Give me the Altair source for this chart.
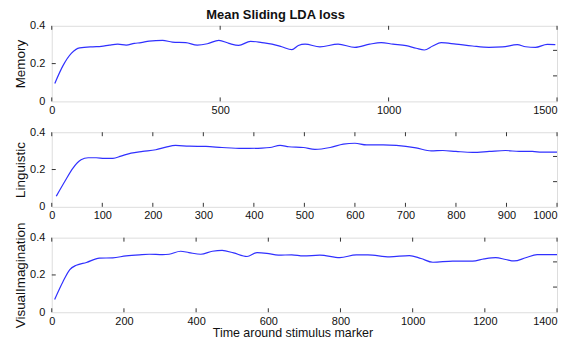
import altair as alt
import pandas as pd

# ---- data ----
mem_x = [9, 33, 58, 83, 122, 147, 171, 196, 221, 245, 265, 289, 329, 358, 398, 432, 462, 496, 526, 555,
         590, 624, 654, 683, 713, 732, 752, 796, 850, 900, 944, 978, 1013, 1052, 1082, 1106, 1131, 1156,
         1200, 1249, 1298, 1338, 1382, 1407, 1436, 1471, 1495]
mem_y = [0.095, 0.188, 0.254, 0.283, 0.289, 0.291, 0.298, 0.303, 0.298, 0.307, 0.311, 0.319, 0.323, 0.314,
         0.311, 0.298, 0.305, 0.323, 0.307, 0.296, 0.318, 0.311, 0.303, 0.289, 0.274, 0.296, 0.303, 0.289,
         0.303, 0.286, 0.303, 0.311, 0.303, 0.295, 0.281, 0.272, 0.293, 0.311, 0.303, 0.293, 0.286, 0.288,
         0.300, 0.289, 0.286, 0.302, 0.300]

lin_x = [9, 26, 42, 58, 72, 88, 104, 121, 137, 157, 180, 206, 226, 245, 272, 305, 337, 377, 416, 432,
         452, 469, 498, 521, 551, 577, 600, 623, 656, 682, 721, 751, 774, 800, 833, 866, 898, 925, 951,
         970, 1000]
lin_y = [0.057, 0.137, 0.208, 0.252, 0.263, 0.263, 0.260, 0.260, 0.272, 0.288, 0.297, 0.306, 0.320, 0.329,
         0.325, 0.324, 0.318, 0.313, 0.315, 0.318, 0.329, 0.322, 0.318, 0.308, 0.318, 0.336, 0.341, 0.332,
         0.332, 0.329, 0.316, 0.300, 0.302, 0.297, 0.292, 0.297, 0.302, 0.297, 0.297, 0.293, 0.293]

vis_x = [8, 31, 50, 68, 96, 132, 169, 206, 243, 270, 307, 325, 357, 380, 413, 445, 472, 504, 541, 569,
         596, 628, 665, 697, 743, 798, 844, 876, 936, 991, 1023, 1056, 1111, 1166, 1198, 1230, 1258, 1281,
         1313, 1345, 1400]
vis_y = [0.069, 0.164, 0.229, 0.252, 0.267, 0.290, 0.292, 0.302, 0.308, 0.311, 0.309, 0.311, 0.327, 0.320,
         0.311, 0.327, 0.332, 0.318, 0.299, 0.320, 0.316, 0.306, 0.308, 0.302, 0.306, 0.293, 0.308, 0.308,
         0.297, 0.304, 0.288, 0.268, 0.274, 0.274, 0.286, 0.293, 0.283, 0.275, 0.292, 0.309, 0.309]

mem_ticks = [0, 500, 1000, 1500]
lin_ticks = [0, 100, 200, 300, 400, 500, 600, 700, 800, 900, 1000]
vis_ticks = [0, 200, 400, 600, 800, 1000, 1200, 1400]
y_ticks = [0, 0.2, 0.4]
y_inner_left = [0.2]
y_inner_right = [0.135, 0.27]

TITLE = "Mean Sliding LDA loss"
XTITLE = "Time around stimulus marker"

FONT = "Liberation Sans"
LINE_COLOR = "#3030ff"
W = 508
TICK = 4


def panel(xs, ys, xticks, xmax, ylabel, h, xtitle=None):
    line_df = pd.DataFrame({"x": xs, "y": ys})
    xt_df = pd.DataFrame({"x": xticks})
    yl_df = pd.DataFrame({"y": y_inner_left})
    yr_df = pd.DataFrame({"y": y_inner_right})

    xaxis_kw = dict(values=xticks, ticks=False, domain=False, grid=False, labelPadding=3,
                    labelFontSize=11, labelFont=FONT, labelColor="#111", format="d",
                    labelFlush=False,
                    labelAlign={"condition": {"test": f"datum.value >= {xmax}", "value": "right"},
                                "value": "center"})
    if xtitle:
        xaxis_kw.update(title=xtitle, titleFontSize=12.5, titleFont=FONT, titleFontWeight="normal",
                        titleColor="#111", titlePadding=0, titleX=242)
    else:
        xaxis_kw.update(title=None)
    X = alt.X("x:Q", scale=alt.Scale(domain=[0, xmax], nice=False, zero=False),
              axis=alt.Axis(**xaxis_kw))
    Y = alt.Y("y:Q", scale=alt.Scale(domain=[0, 0.4], nice=False),
              axis=alt.Axis(values=y_ticks, ticks=False, domain=False, grid=False, format="~g",
                            labelPadding=7, labelFontSize=11, labelFont=FONT, labelColor="#111",
                            labelFlush=False,
                            title=ylabel, titleFontSize=13.5, titleFont=FONT,
                            titleFontWeight="normal", titleColor="#111", titlePadding=2))

    line = alt.Chart(line_df).mark_line(color=LINE_COLOR, strokeWidth=1.2, interpolate="monotone").encode(x=X, y=Y)
    top_t = alt.Chart(xt_df).mark_rule(color="#333", strokeWidth=1).encode(
        x=X, y=alt.value(0), y2=alt.value(TICK))
    bot_t = alt.Chart(xt_df).mark_rule(color="#333", strokeWidth=1).encode(
        x=X, y=alt.value(h - TICK), y2=alt.value(h))
    left_t = alt.Chart(yl_df).mark_rule(color="#333", strokeWidth=1).encode(
        y=Y, x=alt.value(0), x2=alt.value(TICK))
    right_t = alt.Chart(yr_df).mark_rule(color="#333", strokeWidth=1).encode(
        y=Y, x=alt.value(W - TICK), x2=alt.value(W))
    return alt.layer(line, top_t, bot_t, left_t, right_t).properties(width=W, height=h)


p1 = panel(mem_x, mem_y, mem_ticks, 1500, "Memory", 76)
p2 = panel(lin_x, lin_y, lin_ticks, 1000, "Linguistic", 75)
p3 = panel(vis_x, vis_y, vis_ticks, 1400, "VisualImagination", 75, xtitle=XTITLE)

chart = alt.vconcat(p1, p2, p3, spacing=31, bounds="flush").properties(
    title=alt.TitleParams(TITLE, font=FONT, fontSize=13, fontWeight="bold", color="#111",
                          anchor="middle", dx=-11, offset=-3),
    padding={"left": 5, "top": 0, "right": 0, "bottom": 0},
).configure_view(stroke="#333", strokeWidth=1).configure(background="white")

chart.save("out.html", embed_options={"renderer": "svg", "actions": False})
